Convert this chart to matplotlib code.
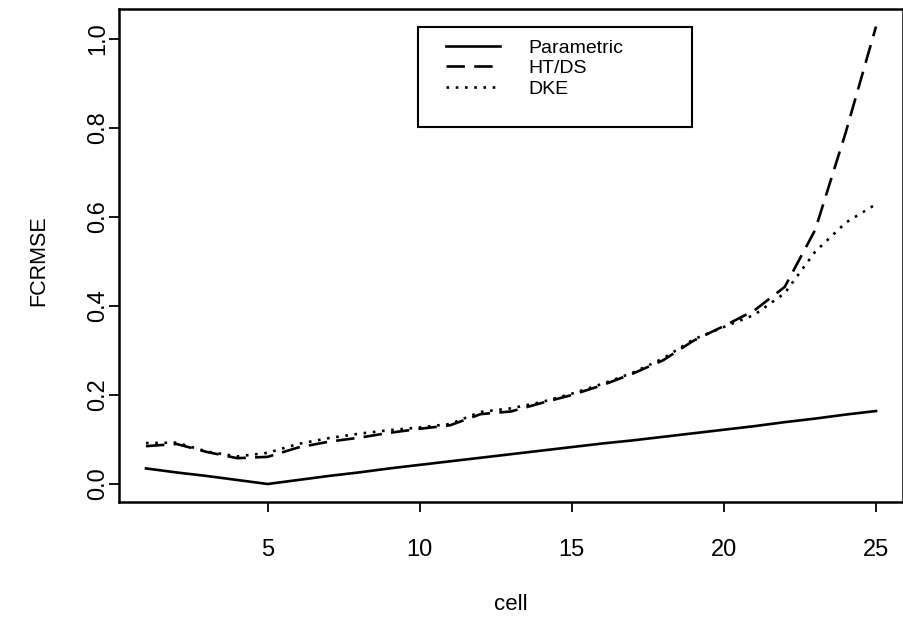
import numpy as np
import matplotlib
matplotlib.use('Agg')
import matplotlib.pyplot as plt
from matplotlib.patches import Rectangle

# data
cell = np.arange(1, 26)
parametric = [0.035, 0.026, 0.018, 0.009, 0.000, 0.009, 0.018, 0.026, 0.035, 0.043,
              0.051, 0.059, 0.067, 0.075, 0.083, 0.091, 0.098, 0.106, 0.114, 0.122,
              0.130, 0.139, 0.147, 0.156, 0.164]
htds = [0.085, 0.090, 0.072, 0.058, 0.061, 0.082, 0.095, 0.104, 0.115, 0.124,
        0.132, 0.157, 0.163, 0.182, 0.200, 0.222, 0.248, 0.278, 0.322, 0.355,
        0.390, 0.443, 0.571, 0.789, 1.028]
dke = [0.092, 0.093, 0.073, 0.062, 0.070, 0.090, 0.103, 0.113, 0.121, 0.127,
       0.135, 0.162, 0.170, 0.184, 0.203, 0.225, 0.250, 0.282, 0.325, 0.353,
       0.380, 0.429, 0.522, 0.587, 0.629]
xticks = [5, 10, 15, 20, 25]
yticks = [0.0, 0.2, 0.4, 0.6, 0.8, 1.0]

plt.rcParams['font.family'] = ['Liberation Sans', 'DejaVu Sans']

W, H = 904, 618
fig = plt.figure(figsize=(W / 100, H / 100), dpi=100)
ax = fig.add_axes([119 / W, (H - 502) / H, (903 - 119) / W, (502 - 9) / H])

lw = 1.9
ax.plot(cell, parametric, color='black', lw=lw, label='Parametric')
ax.plot(cell, htds, color='black', lw=lw, dashes=(7, 3.5), label='HT/DS')
ax.plot(cell, dke, color='black', lw=lw, dashes=(1, 2.5), label='DKE')

ax.set_xlim(1 - 27 / 30.42, 25 + 27 / 30.42)
ax.set_ylim(-18 / 445, 475 / 445)

ax.set_xticks(xticks)
ax.set_yticks(yticks)
ax.set_xticklabels([str(v) for v in xticks])
ax.set_yticklabels(['%.1f' % v for v in yticks], rotation=90, va='center')
ax.tick_params(axis='both', direction='out', length=7, width=1.3, labelsize=17, color='black')
ax.tick_params(axis='x', pad=20)
ax.tick_params(axis='y', pad=0)

for s in ax.spines.values():
    s.set_linewidth(1.8)
    s.set_color('black')

ax.set_xlabel('cell', fontsize=16)
ax.set_ylabel('FCRMSE', fontsize=15.5)
ax.xaxis.set_label_coords(0.5, -0.187)
ax.yaxis.set_label_coords(-0.089, 0.49)

# legend box: x 418-692, y 27-127 px (R style, extra room at the bottom)
box = Rectangle((418 / W, 1 - 127 / H), 274 / W, 100 / H, transform=fig.transFigure,
                facecolor='white', edgecolor='black', lw=1.5, zorder=4, clip_on=False)
ax.add_patch(box)
leg = ax.legend(loc='upper left', bbox_to_anchor=(446 / W, 1 - 39 / H),
                bbox_transform=fig.transFigure, fontsize=14, frameon=False,
                handlelength=2.8, handletextpad=1.45, labelspacing=0.15,
                borderpad=0, borderaxespad=0)
leg.set_zorder(5)

fig.savefig('out.png', dpi=100)
